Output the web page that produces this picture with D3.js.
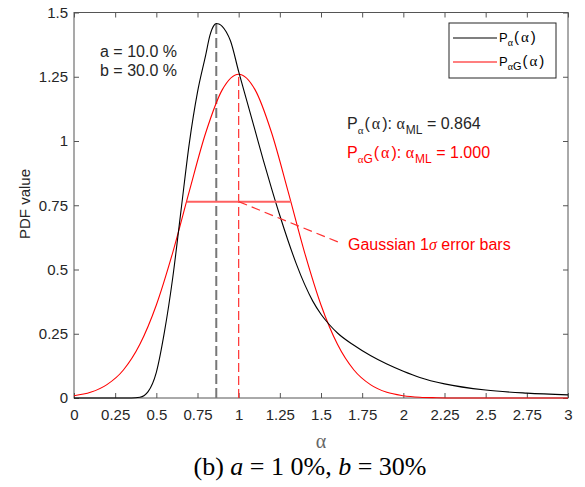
<!DOCTYPE html>
<html>
<head>
<meta charset="utf-8">
<script src="https://cdn.jsdelivr.net/npm/d3@7"></script>
<style>
body { margin: 0; background: #fff; }
svg { display: block; font-family: "Liberation Sans", Arial, sans-serif; }
</style>
</head>
<body>
<svg id="chart" width="585" height="487"></svg>
<script>
// P_alpha(alpha)
var alphaBlack = [0, 0.35, 0.40, 0.45, 0.50, 0.55, 0.60, 0.65, 0.70, 0.75, 0.80, 0.825, 0.85, 0.864, 0.88, 0.90, 0.925, 0.95,
  1.00, 1.05, 1.10, 1.15, 1.20, 1.25, 1.30, 1.35, 1.40, 1.45, 1.50, 1.55, 1.60, 1.70, 1.80, 1.90,
  2.00, 2.10, 2.25, 2.50, 2.75, 3.00];
var pdfBlack = [0, 0, 0.003, 0.025, 0.10, 0.26, 0.47, 0.73, 0.99, 1.19, 1.335, 1.41, 1.45, 1.457, 1.455, 1.446, 1.424, 1.39,
  1.27, 1.155, 1.04, 0.925, 0.815, 0.71, 0.612, 0.522, 0.443, 0.377, 0.326, 0.286, 0.253, 0.205, 0.165, 0.132,
  0.104, 0.08, 0.055, 0.031, 0.019, 0.012];

// P_alphaG(alpha)
var alphaGauss = [0, 0.1, 0.2, 0.3, 0.4, 0.5, 0.6, 0.7, 0.8, 0.9, 1.0, 1.1, 1.2, 1.3, 1.4, 1.5,
  1.6, 1.7, 1.8, 1.9, 2.0, 2.1, 2.2, 2.3, 2.5, 3.0];
var pdfGauss = [0.009, 0.022, 0.052, 0.109, 0.209, 0.362, 0.567, 0.804, 1.032, 1.199, 1.26, 1.199, 1.032, 0.804, 0.567, 0.362,
  0.209, 0.109, 0.052, 0.022, 0.009, 0.003, 0.001, 0, 0, 0];

// modes / peaks and the 1 sigma bar
var modeBlack = 0.864, peakBlack = 1.457;
var modeGauss = 1.0, peakGauss = 1.26;
var errLo = 0.684, errHi = 1.316, errLevel = 0.764;
var leaderEnd = [1.615, 0.604];

var xTicks = [0, 0.25, 0.5, 0.75, 1, 1.25, 1.5, 1.75, 2, 2.25, 2.5, 2.75, 3];
var yTicks = [0, 0.25, 0.5, 0.75, 1, 1.25, 1.5];

var svg = d3.select("#chart");
var plotL = 74, plotR = 568, plotT = 12.5, plotB = 398;

var x = d3.scaleLinear().domain([0, 3]).range([plotL, plotR]);
var y = d3.scaleLinear().domain([0, 1.5]).range([plotB, plotT]);

var axisColor = "#555";
var textColor = "#262626";

// axes, ticks pointing inward
svg.append("g").attr("transform", "translate(0," + plotB + ")")
  .call(d3.axisBottom(x).tickValues(xTicks).tickFormat(function(d) { return String(d); })
    .tickSizeInner(-5).tickSizeOuter(0).tickPadding(11));
svg.append("g").attr("transform", "translate(" + plotL + ",0)")
  .call(d3.axisLeft(y).tickValues(yTicks).tickFormat(function(d) { return String(d); })
    .tickSizeInner(-5).tickSizeOuter(0).tickPadding(6));
svg.append("g").attr("transform", "translate(0," + plotT + ")")
  .call(d3.axisTop(x).tickValues(xTicks).tickFormat("").tickSizeInner(-5).tickSizeOuter(0));
svg.append("g").attr("transform", "translate(" + plotR + ",0)")
  .call(d3.axisRight(y).tickValues(yTicks).tickFormat("").tickSizeInner(-5).tickSizeOuter(0));

svg.selectAll(".domain").remove();
svg.selectAll(".tick line").attr("stroke", axisColor);
svg.selectAll(".tick text").attr("fill", textColor).style("font-size", "15px")
  .style("font-family", "'Liberation Sans', Arial, sans-serif");

svg.append("rect")
  .attr("x", plotL).attr("y", plotT)
  .attr("width", plotR - plotL).attr("height", plotB - plotT)
  .attr("fill", "none").attr("stroke", axisColor).attr("stroke-width", 1);

// axis labels
svg.append("text")
  .attr("transform", "translate(30,204) rotate(-90)")
  .attr("text-anchor", "middle")
  .attr("fill", textColor)
  .style("font-size", "15px")
  .text("PDF value");

svg.append("text")
  .attr("x", x(1.5)).attr("y", 448)
  .attr("text-anchor", "middle")
  .attr("fill", "#666")
  .style("font-family", "'Liberation Serif', serif")
  .style("font-size", "20px")
  .text("α");

// dashed mode markers
svg.append("line")
  .attr("x1", x(modeBlack)).attr("x2", x(modeBlack))
  .attr("y1", y(0)).attr("y2", y(peakBlack))
  .attr("stroke", "#777").attr("stroke-width", 2)
  .attr("stroke-dasharray", "10,4");
svg.append("line")
  .attr("x1", x(modeGauss)).attr("x2", x(modeGauss))
  .attr("y1", y(0)).attr("y2", y(peakGauss))
  .attr("stroke", "#ff3030").attr("stroke-width", 1.2)
  .attr("stroke-dasharray", "9,4");

// curves
var lineB = d3.line()
  .x(function(d, i) { return x(alphaBlack[i]); })
  .y(function(d) { return y(d); })
  .curve(d3.curveMonotoneX);
var lineG = d3.line()
  .x(function(d, i) { return x(alphaGauss[i]); })
  .y(function(d) { return y(d); })
  .curve(d3.curveMonotoneX);

svg.append("path").datum(pdfGauss)
  .attr("d", lineG).attr("fill", "none")
  .attr("stroke", "#ff0000").attr("stroke-width", 1.1);
svg.append("path").datum(pdfBlack)
  .attr("d", lineB).attr("fill", "none")
  .attr("stroke", "#000").attr("stroke-width", 1.1);

// error bar + leader
svg.append("line")
  .attr("x1", x(errLo)).attr("x2", x(errHi))
  .attr("y1", y(errLevel)).attr("y2", y(errLevel))
  .attr("stroke", "#ff6060").attr("stroke-width", 2);
svg.append("line")
  .attr("x1", x(modeGauss)).attr("y1", y(errLevel))
  .attr("x2", x(leaderEnd[0])).attr("y2", y(leaderEnd[1]))
  .attr("stroke", "#ff3030").attr("stroke-width", 1.2)
  .attr("stroke-dasharray", "9,5");

// text with sub/greek pieces
function richText(px, py, parts, size, color) {
  var t = svg.append("text").attr("x", px).attr("y", py)
    .attr("fill", color).style("font-size", size + "px");
  var shift = 0;
  parts.forEach(function(p) {
    var s = t.append("tspan").text(p.t);
    var target = p.sub || 0;
    if (target !== shift) s.attr("dy", target - shift);
    shift = target;
    if (p.size) s.style("font-size", p.size + "px");
    if (p.greek) s.style("font-family", "'Liberation Serif', serif");
    if (p.italic) s.style("font-style", "italic");
    if (p.ls) s.style("letter-spacing", p.ls + "px");
  });
  return t;
}

richText(100, 57, [{t: "a = 10.0 %"}], 16, textColor);
richText(100, 76, [{t: "b = 30.0 %"}], 16, textColor);

richText(347, 129, [
  {t: "P"}, {t: "α", sub: 5, size: 11, greek: true, ls: 1},
  {t: "(", ls: 2}, {t: "α", greek: true, ls: 2}, {t: "): "},
  {t: "α", greek: true, ls: 1}, {t: "ML", sub: 5, size: 12}, {t: " = 0.864"}
], 16, textColor);
richText(347, 158, [
  {t: "P"}, {t: "α", sub: 5, size: 11, greek: true}, {t: "G", sub: 5, size: 12, ls: 1},
  {t: "(", ls: 2}, {t: "α", greek: true, ls: 2}, {t: "): "},
  {t: "α", greek: true, ls: 1}, {t: "ML", sub: 5, size: 12}, {t: " = 1.000"}
], 16, "#ff0000");

richText(348, 250, [
  {t: "Gaussian 1"}, {t: "σ", greek: true, italic: true}, {t: " error bars"}
], 16, "#ff0000");

// legend
var lg = svg.append("g");
lg.append("rect").attr("x", 449).attr("y", 23).attr("width", 107).attr("height", 55)
  .attr("fill", "#fff").attr("stroke", textColor).attr("stroke-width", 1);
lg.append("line").attr("x1", 453).attr("x2", 497).attr("y1", 38).attr("y2", 38)
  .attr("stroke", "#000").attr("stroke-width", 1.1);
lg.append("line").attr("x1", 453).attr("x2", 497).attr("y1", 62).attr("y2", 62)
  .attr("stroke", "#ff0000").attr("stroke-width", 1.1);
richText(499, 42, [
  {t: "P"}, {t: "α", sub: 4, size: 10, greek: true, ls: 1},
  {t: "(", size: 15, ls: 2}, {t: "α", size: 15, greek: true, ls: 2}, {t: ")", size: 15}
], 13, "#000");
richText(499, 66, [
  {t: "P"}, {t: "α", sub: 4, size: 10, greek: true}, {t: "G", sub: 4, size: 11, ls: 1},
  {t: "(", size: 15, ls: 2}, {t: "α", size: 15, greek: true, ls: 2}, {t: ")", size: 15}
], 13, "#000");

// caption
var cap = svg.append("text")
  .attr("x", 310).attr("y", 475)
  .attr("text-anchor", "middle")
  .attr("fill", "#000")
  .style("font-family", "'Liberation Serif', 'Times New Roman', serif")
  .style("font-size", "26px");
cap.append("tspan").text("(b) ");
cap.append("tspan").style("font-style", "italic").text("a");
cap.append("tspan").text(" = 1 0%, ");
cap.append("tspan").style("font-style", "italic").text("b");
cap.append("tspan").text(" = 30%");
</script>
</body>
</html>
